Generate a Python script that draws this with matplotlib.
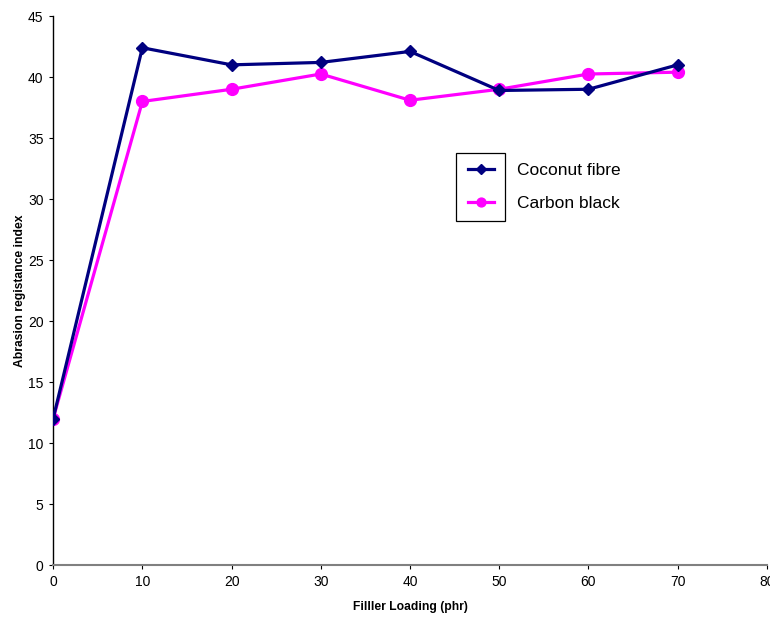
import matplotlib
matplotlib.use("Agg")
from matplotlib import pyplot as plt
from matplotlib.patches import Rectangle

# filler loading (phr)
loading = [0, 10, 20, 30, 40, 50, 60, 70]
# abrasion resistance index for each filler
coconut = [12.0, 42.4, 41.0, 41.2, 42.1, 38.9, 39.0, 41.0]
carbon = [12.0, 38.0, 39.0, 40.25, 38.1, 39.0, 40.25, 40.4]

plt.rcParams['font.family'] = ['Liberation Sans', 'DejaVu Sans']

fig = plt.figure(figsize=(7.7, 6.17), dpi=100)
ax = fig.add_axes([0.069, 0.084, 0.927, 0.89])

ax.plot(loading, coconut, color='#000080', linewidth=2.3, marker='D',
        markersize=6.5, label='Coconut fibre', zorder=3)
ax.plot(loading, carbon, color='#FF00FF', linewidth=2.3, marker='o',
        markersize=8.5, label='Carbon black', zorder=2)

ax.set_xlim(0, 80)
ax.set_ylim(0, 45)
ax.set_xticks(range(0, 81, 10))
ax.set_yticks(range(0, 46, 5))
ax.tick_params(labelsize=10, direction='out', length=3, width=0.8,
               pad=4)
ax.spines['top'].set_visible(False)
ax.spines['right'].set_visible(False)
ax.spines['left'].set_color('black')
ax.spines['bottom'].set_color('#808080')
ax.spines['bottom'].set_linewidth(1.5)
ax.spines['left'].set_linewidth(1.0)

ax.set_xlabel('Filller Loading (phr)', fontsize=8.7, fontweight='bold',
              labelpad=9)
ax.set_ylabel('Abrasion registance index', fontsize=8.7, fontweight='bold',
              labelpad=1)

# legend text sits outside its box, so draw the frame separately
leg = ax.legend(loc='upper left', bbox_to_anchor=(0.572, 0.745), frameon=False,
                fontsize=12.5, handlelength=1.5, handletextpad=1.3,
                labelspacing=1.0, borderaxespad=0, markerscale=0.75)
ax.add_patch(Rectangle((0.565, 0.627), 0.068, 0.123, transform=ax.transAxes,
                       fill=False, edgecolor='black', linewidth=0.9,
                       clip_on=False))

plt.savefig('out.png', dpi=100)
